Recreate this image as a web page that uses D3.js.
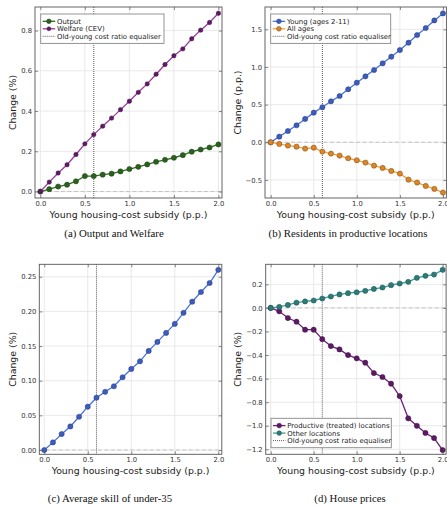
<!DOCTYPE html>
<html>
<head>
<meta charset="utf-8">
<script src="https://cdn.jsdelivr.net/npm/d3@7"></script>
<style>
  body { margin: 0; background: #fff; }
  text { font-family: "DejaVu Sans", sans-serif; }
</style>
</head>
<body>
<svg id="chart" width="447" height="505"></svg>
<script>
const svg = d3.select('#chart')

// subsidy steps (p.p.)
const subsidy = [0.0, 0.1, 0.2, 0.3, 0.4, 0.5, 0.6, 0.7, 0.8, 0.9, 1.0, 1.1, 1.2, 1.3, 1.4, 1.5, 1.6, 1.7, 1.8, 1.9, 2.0]
const equaliser = 0.6

// (a) output and welfare, %
const output = [0, 0.012, 0.025, 0.034, 0.051, 0.077, 0.077, 0.084, 0.089, 0.100, 0.112, 0.123, 0.135, 0.148, 0.158, 0.168, 0.181, 0.198, 0.209, 0.219, 0.234]
const welfare = [0, 0.047, 0.092, 0.133, 0.184, 0.237, 0.283, 0.325, 0.365, 0.407, 0.449, 0.493, 0.535, 0.583, 0.631, 0.675, 0.709, 0.759, 0.802, 0.840, 0.886]

// (b) residents in productive locations, p.p.
const youngRes = [0, 0.075, 0.150, 0.226, 0.310, 0.394, 0.465, 0.544, 0.615, 0.704, 0.792, 0.876, 0.960, 1.049, 1.137, 1.226, 1.323, 1.425, 1.518, 1.619, 1.712]
const allRes = [0, -0.022, -0.044, -0.058, -0.084, -0.071, -0.124, -0.150, -0.177, -0.212, -0.239, -0.270, -0.310, -0.341, -0.381, -0.416, -0.496, -0.535, -0.580, -0.619, -0.668]

// (c) average skill of under-35, %
const skill = [0, 0.011, 0.023, 0.034, 0.048, 0.0625, 0.0755, 0.084, 0.092, 0.105, 0.117, 0.128, 0.143, 0.156, 0.169, 0.182, 0.198, 0.214, 0.228, 0.241, 0.260]

// (d) house prices, %
const prodPrice = [0, -0.029, -0.086, -0.117, -0.185, -0.185, -0.265, -0.324, -0.352, -0.400, -0.428, -0.465, -0.553, -0.586, -0.643, -0.748, -0.937, -1.000, -1.061, -1.104, -1.206]
const otherPrice = [0, 0.008, 0.025, 0.044, 0.055, 0.063, 0.080, 0.097, 0.114, 0.125, 0.133, 0.145, 0.161, 0.173, 0.193, 0.207, 0.221, 0.255, 0.272, 0.283, 0.323]

const xTicks = [0, 0.5, 1.0, 1.5, 2.0]
const xLabel = 'Young housing-cost subsidy (p.p.)'
const eqLabel = 'Old-young cost ratio equaliser'

const panels = [
  {
    box: [35, 222, 7, 198], xDom: [-0.06, 2.04], yDom: [-0.032, 0.917],
    yTicks: [0, 0.2, 0.4, 0.6, 0.8], yFmt: '.1f', yLabel: 'Change (%)', yLabelX: 12.7,
    caption: '(a) Output and Welfare', capX: 114, capY: 237,
    legend: [40.7, 14, 123.3],
    series: [
      { name: 'Output', values: output, line: '#2f6b22', fill: '#2b5f1f', stroke: '#1f4a15', r: 2.6 },
      { name: 'Welfare (CEV)', values: welfare, line: '#963f9c', fill: '#5e1a63', stroke: '#4a1250', r: 2.2 }
    ]
  },
  {
    box: [265, 446.4, 7, 198], xDom: [-0.066, 2.04], yDom: [-0.74, 1.797],
    yTicks: [-0.5, 0, 0.5, 1.0, 1.5], yFmt: '.1f', yLabel: 'Change (p.p.)', yLabelX: 237.3,
    caption: '(b) Residents in productive locations', capX: 348, capY: 237,
    legend: [270.7, 14, 120],
    series: [
      { name: 'Young (ages 2-11)', values: youngRes, line: '#4a72e0', fill: '#3c5cbd', stroke: '#2a3f80', r: 2.6 },
      { name: 'All ages', values: allRes, line: '#f2a23c', fill: '#db8428', stroke: '#7a4a15', r: 2.6 }
    ]
  },
  {
    box: [39.3, 221.8, 264.3, 454.3], xDom: [-0.057, 2.04], yDom: [-0.0062, 0.268],
    yTicks: [0, 0.05, 0.10, 0.15, 0.20, 0.25], yFmt: '.2f', yLabel: 'Change (%)', yLabelX: 12.7,
    caption: '(c) Average skill of under-35', capX: 110, capY: 502,
    legend: null,
    series: [
      { name: 'Skill', values: skill, line: '#4a72e0', fill: '#3c5cbd', stroke: '#2a3f80', r: 2.6 }
    ]
  },
  {
    box: [265.7, 446.1, 264.3, 454.3], xDom: [-0.058, 2.04], yDom: [-1.242, 0.37],
    yTicks: [-1.2, -1.0, -0.8, -0.6, -0.4, -0.2, 0, 0.2], yFmt: '.1f', yLabel: 'Change (%)', yLabelX: 237.3,
    caption: '(d) House prices', capX: 350, capY: 502,
    legend: [271, 418.3, 120.3],
    series: [
      { name: 'Productive (treated) locations', values: prodPrice, line: '#6e2076', fill: '#5c1a63', stroke: '#40104a', r: 2.6 },
      { name: 'Other locations', values: otherPrice, line: '#3f9c98', fill: '#2c7b78', stroke: '#1d5553', r: 2.6 }
    ]
  }
]

// white background
svg.append('rect').attr('width', 447).attr('height', 505).attr('fill', '#fff')

const minus = s => s.replace('-', '\u2212')

panels.forEach((p, pi) => {
  const [x0, x1, y0, y1] = p.box
  const xScale = d3.scaleLinear().domain(p.xDom).range([x0, x1])
  const yScale = d3.scaleLinear().domain(p.yDom).range([y1, y0])
  const g = svg.append('g')

  const clipId = 'clip' + pi
  g.append('clipPath').attr('id', clipId)
    .append('rect').attr('x', x0).attr('y', y0).attr('width', x1 - x0).attr('height', y1 - y0)

  // grid
  g.append('g').selectAll('line').data(xTicks).enter().append('line')
    .attr('x1', d => xScale(d)).attr('x2', d => xScale(d))
    .attr('y1', y0).attr('y2', y1)
    .attr('stroke', '#e3e3e3').attr('stroke-width', 0.8)
  g.append('g').selectAll('line').data(p.yTicks).enter().append('line')
    .attr('x1', x0).attr('x2', x1)
    .attr('y1', d => yScale(d)).attr('y2', d => yScale(d))
    .attr('stroke', '#e3e3e3').attr('stroke-width', 0.8)

  // zero line
  g.append('line')
    .attr('x1', x0).attr('x2', x1)
    .attr('y1', yScale(0)).attr('y2', yScale(0))
    .attr('stroke', '#c4c4c4').attr('stroke-width', 1).attr('stroke-dasharray', '4 2.5')

  // equaliser line
  g.append('line')
    .attr('x1', xScale(equaliser)).attr('x2', xScale(equaliser))
    .attr('y1', y0).attr('y2', y1)
    .attr('stroke', '#333').attr('stroke-width', 0.8).attr('stroke-dasharray', '1 1')

  // series
  const line = d3.line().x((d, i) => xScale(subsidy[i])).y(d => yScale(d))
  const plot = g.append('g').attr('clip-path', `url(#${clipId})`)
  p.series.forEach(s => {
    plot.append('path').datum(s.values)
      .attr('d', line)
      .attr('fill', 'none').attr('stroke', s.line).attr('stroke-width', 1.3)
    plot.append('g').selectAll('circle').data(s.values).enter().append('circle')
      .attr('cx', (d, i) => xScale(subsidy[i]))
      .attr('cy', d => yScale(d))
      .attr('r', s.r)
      .attr('fill', s.fill).attr('stroke', s.stroke).attr('stroke-width', 0.5)
  })

  // axes, ticks pointing in on all four sides
  const fmt = d3.format(p.yFmt)
  g.append('g').attr('transform', `translate(0, ${y1})`)
    .call(d3.axisBottom(xScale).tickValues(xTicks).tickFormat(d3.format('.1f')).tickSize(-3).tickPadding(3))
  g.append('g').attr('transform', `translate(${x0}, 0)`)
    .call(d3.axisLeft(yScale).tickValues(p.yTicks).tickFormat(d => minus(fmt(d))).tickSize(-3).tickPadding(3))
  g.append('g').attr('transform', `translate(0, ${y0})`)
    .call(d3.axisTop(xScale).tickValues(xTicks).tickFormat('').tickSize(-3))
  g.append('g').attr('transform', `translate(${x1}, 0)`)
    .call(d3.axisRight(yScale).tickValues(p.yTicks).tickFormat('').tickSize(-3))

  g.selectAll('.domain').remove()
  g.selectAll('.tick line').attr('stroke', '#555').attr('stroke-width', 0.7)
  g.selectAll('.tick text').attr('fill', '#333').style('font-size', '6.8px').style('font-family', 'DejaVu Sans')

  // frame
  g.append('rect')
    .attr('x', x0).attr('y', y0).attr('width', x1 - x0).attr('height', y1 - y0)
    .attr('fill', 'none').attr('stroke', '#555').attr('stroke-width', 0.9)

  // axis labels
  g.append('text')
    .attr('x', (x0 + x1) / 2).attr('y', y1 + 19.5)
    .attr('text-anchor', 'middle')
    .style('font-size', '9.4px').attr('fill', '#222')
    .text(xLabel)
  g.append('text')
    .attr('transform', `translate(${p.yLabelX}, ${(y0 + y1) / 2}) rotate(-90)`)
    .attr('text-anchor', 'middle').attr('dy', '0.35em')
    .style('font-size', '9.4px').attr('fill', '#222')
    .text(p.yLabel)

  // caption
  g.append('text')
    .attr('x', p.capX).attr('y', p.capY)
    .attr('text-anchor', 'middle')
    .style('font-family', '"Liberation Serif", serif').style('font-size', '10.8px').attr('fill', '#111')
    .text(p.caption)

  // legend
  if (p.legend) {
    const [lx, ly, lw] = p.legend
    const lg = g.append('g').attr('transform', `translate(${lx}, ${ly})`)
    lg.append('rect').attr('width', lw).attr('height', 29.4)
      .attr('fill', '#fff').attr('stroke', '#888').attr('stroke-width', 0.9)
    const entries = p.series.map(s => ({ name: s.name, s: s })).concat([{ name: eqLabel, s: null }])
    entries.forEach((e, i) => {
      const yy = 7.3 + i * 7.5
      const row = lg.append('g').attr('transform', `translate(0, ${yy})`)
      if (e.s) {
        row.append('line').attr('x1', 2).attr('x2', 14.5).attr('stroke', e.s.line).attr('stroke-width', 1.3)
        row.append('circle').attr('cx', 8.2).attr('r', e.s.r * 0.9)
          .attr('fill', e.s.fill).attr('stroke', e.s.stroke).attr('stroke-width', 0.5)
      } else {
        row.append('line').attr('x1', 2).attr('x2', 14.5).attr('stroke', '#333')
          .attr('stroke-width', 0.8).attr('stroke-dasharray', '1 1')
      }
      row.append('text').attr('x', 16.3).attr('dy', '0.35em')
        .style('font-size', '6.9px').attr('fill', '#222')
        .text(e.name)
    })
  }
})
</script>
</body>
</html>
